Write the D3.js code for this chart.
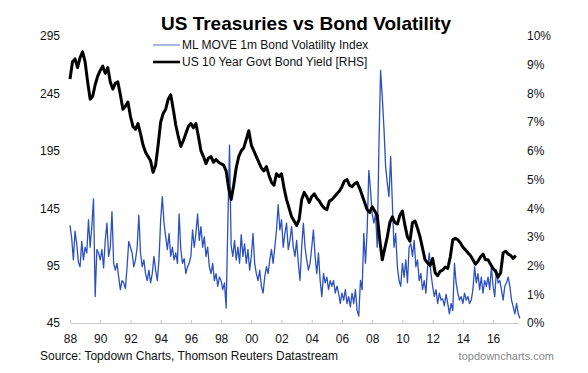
<!DOCTYPE html>
<html>
<head>
<meta charset="utf-8">
<script src="https://cdn.jsdelivr.net/npm/d3@7"></script>
<style>
  html, body { margin: 0; padding: 0; background: #fff; }
  svg { display: block; font-family: "Liberation Sans", Arial, Helvetica, sans-serif; }
</style>
</head>
<body>
<div id="chart"></div>
<script>
const chartTitle = 'US Treasuries vs Bond Volatility';
const legendLabels = ['ML MOVE 1m Bond Volatility Index', 'US 10 Year Govt Bond Yield [RHS]'];
const sourceText = 'Source: Topdown Charts, Thomson Reuters Datastream';
const brandText = 'topdowncharts.com';

const xTickYears = [1988, 1990, 1992, 1994, 1996, 1998, 2000, 2002, 2004, 2006, 2008, 2010, 2012, 2014, 2016];
const xTickLabels = ['88', '90', '92', '94', '96', '98', '00', '02', '04', '06', '08', '10', '12', '14', '16'];
const leftTicks = [45, 95, 145, 195, 245, 295];
const rightTicks = [0, 1, 2, 3, 4, 5, 6, 7, 8, 9, 10];

// ML MOVE index, one value every 1/9 year from 1988
const moveStart = 1988;
const moveStep = 1 / 9;
const moveValues = [
  130, 119, 100, 125, 114, 98, 94, 116, 100, 111,
  106, 135, 111, 129, 153, 68, 109, 106, 100, 109,
  93, 117, 132, 103, 111, 142, 97, 91, 97, 85,
  74, 82, 80, 75, 94, 116, 111, 106, 94, 100,
  111, 139, 106, 94, 100, 88, 82, 91, 80, 88,
  103, 91, 82, 100, 135, 155, 132, 120, 109, 123,
  103, 111, 100, 106, 97, 140, 109, 97, 101, 88,
  94, 97, 103, 126, 111, 123, 140, 117, 129, 111,
  120, 103, 111, 94, 88, 97, 82, 88, 77, 85,
  82, 74, 80, 58, 130, 200, 112, 103, 117, 100,
  111, 97, 122, 103, 114, 97, 109, 91, 103, 123,
  97, 88, 82, 91, 77, 71, 85, 94, 88, 100,
  109, 97, 111, 126, 148, 126, 135, 111, 123, 132,
  109, 117, 129, 111, 103, 117, 97,
  82, 111, 132, 111, 100, 91, 97, 111, 126, 103,
  88, 106, 82, 68, 88, 80, 85, 74, 82, 77,
  82, 71, 77, 71, 62, 71, 65, 74, 62, 68,
  59, 71, 62, 74, 56, 51, 82, 74, 123, 97,
  126, 178, 161, 140, 132, 140, 111, 198, 265, 242,
  215, 181, 167, 155, 190, 150, 111, 123, 94, 82,
  77, 97, 85, 100, 80, 111, 114, 103, 117, 94,
  100, 82, 88, 74, 82, 71, 94, 106, 88, 77,
  68, 74, 62, 71, 65, 66, 60, 70, 62, 53,
  62, 56, 97, 80, 71, 65, 68, 62, 71, 65,
  68, 62, 65, 74, 94, 80, 88, 74, 85, 71,
  82, 77, 85, 74, 94, 77, 68, 91, 80, 82,
  74, 65, 77, 80, 85, 77, 65, 59, 53, 62,
  53, 49
];

// US 10y yield (%), one value every 2 months from 1988
const yieldStart = 1988;
const yieldStep = 1 / 6;
const yieldValues = [
  8.5, 9.1, 9.2, 8.9, 9.25, 9.45, 9.1, 8.4, 7.8, 7.9,
  8.3, 8.6, 8.8, 8.95, 8.7, 8.9, 8.4, 8.15, 8.35, 8.4,
  7.95, 7.45, 7.55, 7.7, 7.2, 6.85, 6.75, 6.95, 6.6, 6.2,
  5.95, 5.8, 5.65, 5.25, 5.5, 6.2, 7.0, 7.3, 7.45, 7.8,
  7.95, 7.45, 6.9, 6.5, 6.15, 6.35, 6.6, 6.85, 6.95, 6.8,
  6.95, 6.5, 6.0, 5.8, 5.55, 5.75, 5.8, 5.6, 5.7, 5.6,
  5.55, 5.5, 5.3, 4.7, 4.3, 4.8, 5.4, 5.8, 6.0, 6.1,
  6.4, 6.7, 6.2, 6.0, 5.8, 5.6, 5.4, 5.3, 5.45, 5.15,
  4.9, 4.8, 5.2, 5.1, 5.2, 4.7, 4.3, 4.0, 3.7, 3.55,
  3.4, 3.6, 4.3, 4.55, 4.4, 4.2, 4.4, 4.5, 4.35, 4.25,
  4.1, 4.0, 3.95, 4.25, 4.3, 4.4, 4.5, 4.6, 4.75, 4.95,
  5.0, 4.8, 4.75, 4.85, 4.9, 4.7, 4.45, 4.2, 3.95, 3.85,
  4.05, 3.9, 3.75, 2.9, 2.2, 2.6, 3.0, 3.5, 3.7, 3.5,
  3.45, 3.75, 3.9, 3.4, 3.0, 2.85, 3.5, 3.55, 3.3, 3.0,
  2.6, 2.2, 2.1, 2.0, 2.25, 1.75, 1.65, 1.8, 1.85, 1.95,
  1.9, 2.3, 2.9, 2.95, 2.9, 2.8, 2.65, 2.55, 2.45, 2.35,
  2.2, 2.05, 2.15, 2.3, 2.4, 2.2, 2.2, 2.05, 1.9, 1.8,
  1.6, 1.75, 2.45, 2.5, 2.4, 2.35, 2.25, 2.35
];

const width = 588;
const height = 373;
const plot = { left: 70, right: 518, top: 36, bottom: 323 };

const moveData = moveValues.map((v, i) => ({ t: moveStart + i * moveStep, v }));
const yieldData = yieldValues.map((v, i) => ({ t: yieldStart + i * yieldStep, v }));

const svg = d3.select('#chart')
  .append('svg')
  .attr('width', width)
  .attr('height', height);

// Scales
const x = d3.scaleLinear()
  .domain([1988, 2017.65])
  .range([plot.left, plot.right]);

const yLeft = d3.scaleLinear()
  .domain([45, 295])
  .range([plot.bottom, plot.top]);

const yRight = d3.scaleLinear()
  .domain([0, 10])
  .range([plot.bottom, plot.top]);

// Axes
const xAxis = svg.append('g')
  .attr('transform', `translate(0,${plot.bottom})`)
  .call(d3.axisBottom(x)
    .tickValues(xTickYears)
    .tickFormat((d, i) => xTickLabels[i])
    .tickSize(-3)
    .tickSizeOuter(0)
    .tickPadding(11));
xAxis.select('.domain').attr('stroke', '#c8c8c8');
xAxis.selectAll('.tick line').attr('stroke', '#c8c8c8');
xAxis.selectAll('text').attr('font-size', 12).attr('fill', '#111');

const leftAxis = svg.append('g')
  .attr('transform', `translate(${plot.left},0)`)
  .call(d3.axisLeft(yLeft).tickValues(leftTicks).tickSize(0).tickPadding(10));
leftAxis.select('.domain').remove();
leftAxis.selectAll('text').attr('font-size', 12).attr('fill', '#111');

const rightAxis = svg.append('g')
  .attr('transform', `translate(${plot.right},0)`)
  .call(d3.axisRight(yRight).tickValues(rightTicks).tickSize(0).tickPadding(9)
    .tickFormat(d => d + '%'));
rightAxis.select('.domain').remove();
rightAxis.selectAll('text').attr('font-size', 12).attr('fill', '#111');

// Lines
const moveLine = d3.line()
  .x(d => x(d.t))
  .y(d => yLeft(d.v));

const yieldLine = d3.line()
  .x(d => x(d.t))
  .y(d => yRight(d.v));

svg.append('path')
  .datum(moveData)
  .attr('d', moveLine)
  .attr('fill', 'none')
  .attr('stroke', '#2b50c2')
  .attr('stroke-width', 1.3)
  .attr('stroke-linejoin', 'round');

svg.append('path')
  .datum(yieldData)
  .attr('d', yieldLine)
  .attr('fill', 'none')
  .attr('stroke', '#000')
  .attr('stroke-width', 3)
  .attr('stroke-linejoin', 'round');

// Title
svg.append('text')
  .attr('x', 306)
  .attr('y', 30)
  .attr('text-anchor', 'middle')
  .attr('font-size', 19)
  .attr('font-weight', 'bold')
  .attr('fill', '#000')
  .text(chartTitle);

// Legend
const legendColors = ['#a6b6dc', '#000'];
const legendWidths = [2, 2.6];
legendLabels.forEach((label, i) => {
  const ly = 45 + i * 17;
  svg.append('line')
    .attr('x1', 153).attr('x2', 180)
    .attr('y1', ly).attr('y2', ly)
    .attr('stroke', legendColors[i])
    .attr('stroke-width', legendWidths[i]);
  svg.append('text')
    .attr('x', 182)
    .attr('y', ly)
    .attr('dy', '0.36em')
    .attr('font-size', 12)
    .attr('fill', '#111')
    .text(label);
});

// Footer
svg.append('text')
  .attr('x', 40)
  .attr('y', 360)
  .attr('font-size', 13)
  .attr('fill', '#111')
  .attr('textLength', 298)
  .attr('lengthAdjust', 'spacingAndGlyphs')
  .text(sourceText);

svg.append('text')
  .attr('x', 554)
  .attr('y', 360)
  .attr('text-anchor', 'end')
  .attr('font-size', 11)
  .attr('fill', '#888')
  .text(brandText);
</script>
</body>
</html>
